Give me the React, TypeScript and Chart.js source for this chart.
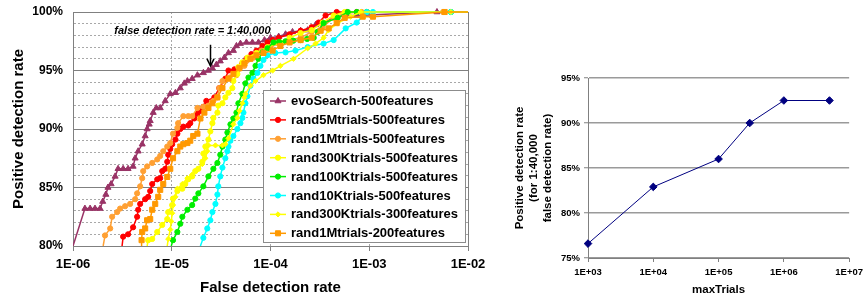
import React, { useEffect, useRef } from 'react';
import { Chart, registerables } from 'chart.js';

Chart.register(...registerables);

const FONT = "'Liberation Sans', Arial, Helvetica, sans-serif";

// ---------- Left chart: ROC curves (false detection rate vs positive detection rate %) ----------
const seriesLabels = [
  'evoSearch-500features',
  'rand5Mtrials-500features',
  'rand1Mtrials-500features',
  'rand300Ktrials-500features',
  'rand100Ktrials-500features',
  'rand10Ktrials-500features',
  'rand300Ktrials-300features',
  'rand1Mtrials-200features',
];

const evoSearchFdr = [1.0e-6, 1.32e-6, 1.49e-6, 1.67e-6, 1.88e-6, 2.0e-6, 2.15e-6, 2.26e-6, 2.43e-6, 2.67e-6, 2.86e-6, 3.22e-6, 3.61e-6, 4.06e-6, 4.26e-6, 4.57e-6, 5.02e-6, 5.38e-6, 5.63e-6, 5.91e-6, 6.05e-6, 6.49e-6, 6.97e-6, 7.64e-6, 8.59e-6, 9.66e-6, 1.09e-5, 1.22e-5, 1.34e-5, 1.44e-5, 1.61e-5, 1.82e-5, 2.09e-5, 2.35e-5, 2.58e-5, 2.83e-5, 3.10e-5, 3.41e-5, 3.75e-5, 4.21e-5, 4.52e-5, 4.96e-5, 5.70e-5, 6.56e-5, 7.55e-5, 8.69e-5, 1.0e-4, 1.21e-4, 1.42e-4, 1.67e-4, 2.02e-4, 2.38e-4, 2.86e-4, 3.37e-4, 4.36e-4, 5.77e-4, 7.46e-4, 4.85e-3, 1e-2];
const evoSearchPdr = [80, 83.2, 83.2, 83.2, 83.2, 83.8, 84.4, 85.0, 85.3, 85.95, 86.6, 86.6, 86.6, 86.8, 87.5, 88.1, 88.7, 89.4, 90.0, 90.4, 90.7, 91.4, 91.8, 91.8, 92.4, 93.0, 93.1, 93.5, 93.9, 94.1, 94.3, 94.6, 94.8, 95.0, 95.2, 95.5, 95.8, 96.1, 96.5, 96.7, 97.1, 97.3, 97.4, 97.4, 97.4, 97.6, 97.8, 97.9, 98.1, 98.3, 98.4, 98.45, 98.9, 99.1, 99.5, 99.7, 99.7, 100, 100];

const rand5MFdr = [3.14e-6, 3.22e-6, 3.61e-6, 4.06e-6, 4.46e-6, 4.57e-6, 4.79e-6, 5.38e-6, 5.77e-6, 6.05e-6, 6.34e-6, 7.13e-6, 7.64e-6, 8.01e-6, 8.59e-6, 9.0e-6, 9.21e-6, 9.66e-6, 1.01e-5, 1.09e-5, 1.14e-5, 1.22e-5, 1.31e-5, 1.47e-5, 1.54e-5, 1.69e-5, 1.82e-5, 1.95e-5, 2.09e-5, 2.24e-5, 2.70e-5, 3.03e-5, 3.49e-5, 3.75e-5, 4.31e-5, 4.84e-5, 5.19e-5, 5.70e-5, 6.41e-5, 7.21e-5, 8.29e-5, 9.33e-5, 1.05e-4, 1.21e-4, 1.56e-4, 2.02e-4, 2.61e-4, 3.07e-4, 3.61e-4, 4.68e-4, 5.92e-4, 7.46e-4, 9.44e-4, 1e-2];
const rand5MPdr = [80, 80.8, 81.0, 81.6, 82.5, 83.1, 83.6, 84.0, 84.2, 84.7, 85.3, 85.7, 85.8, 86.4, 86.6, 87.2, 87.8, 88.3, 88.7, 89.1, 89.6, 90.0, 90.2, 90.3, 90.5, 90.9, 91.3, 91.55, 91.9, 92.4, 92.7, 93.5, 94.3, 95.0, 95.1, 95.2, 95.6, 96.0, 96.4, 96.7, 97.1, 97.4, 97.6, 97.8, 98.1, 98.4, 98.7, 99.1, 99.7, 100, 100, 100, 100, 100];

const rand1M500Fdr = [2.02e-6, 2.11e-6, 2.38e-6, 2.49e-6, 2.80e-6, 3.0e-6, 3.37e-6, 3.79e-6, 4.26e-6, 4.46e-6, 4.79e-6, 5.02e-6, 5.14e-6, 5.63e-6, 6.34e-6, 7.13e-6, 7.64e-6, 8.20e-6, 9.0e-6, 9.66e-6, 1.03e-5, 1.14e-5, 1.16e-5, 1.31e-5, 1.47e-5, 1.61e-5, 1.82e-5, 2.09e-5, 2.35e-5, 2.64e-5, 2.90e-5, 3.03e-5, 3.26e-5, 3.84e-5, 4.52e-5, 5.44e-5, 6.72e-5, 8.10e-5, 1.0e-4, 1.21e-4, 1.56e-4, 2.02e-4, 2.61e-4, 3.37e-4, 4.36e-4, 5.64e-4, 8.39e-4, 5.6e-3, 1e-2];
const rand1M500Pdr = [80, 80.9, 81.5, 82.5, 82.9, 83.2, 83.4, 83.6, 84.0, 84.5, 85.1, 85.8, 86.4, 86.8, 87.1, 87.4, 87.7, 88.1, 88.5, 88.8, 89.6, 90.1, 90.5, 91.1, 91.1, 91.1, 91.8, 91.9, 92.0, 92.4, 92.7, 93.5, 94.1, 94.4, 94.6, 95.4, 96.1, 96.7, 97.0, 97.3, 97.6, 97.8, 98.3, 98.7, 99.5, 99.9, 100, 100, 100];

const rand300K500Fdr = [5.63e-6, 5.77e-6, 6.34e-6, 7.13e-6, 8.01e-6, 9.0e-6, 9.21e-6, 1.01e-5, 1.03e-5, 1.14e-5, 1.28e-5, 1.37e-5, 1.47e-5, 1.61e-5, 1.73e-5, 1.86e-5, 2.04e-5, 2.09e-5, 2.19e-5, 2.35e-5, 2.46e-5, 2.58e-5, 2.64e-5, 2.90e-5, 2.96e-5, 3.26e-5, 3.49e-5, 3.75e-5, 4.11e-5, 4.21e-5, 4.62e-5, 4.73e-5, 5.19e-5, 5.84e-5, 7.21e-5, 9.33e-5, 1.26e-4, 1.56e-4, 2.02e-4, 2.61e-4, 3.37e-4, 4.36e-4, 5.64e-4, 9.44e-4, 6.71e-3, 1e-2];
const rand300K500Pdr = [80, 80.5, 80.6, 81.2, 81.8, 82.3, 82.9, 83.5, 84.05, 84.7, 84.9, 85.3, 85.7, 85.95, 86.4, 86.6, 87.2, 87.9, 88.5, 89.1, 89.8, 90.5, 90.95, 91.4, 92.0, 92.2, 92.7, 93.1, 93.5, 94.1, 94.7, 95.3, 95.7, 96.1, 96.5, 97.0, 97.4, 97.8, 98.2, 98.45, 99.1, 99.7, 100, 100, 100, 100];

const rand100KFdr = [9.89e-6, 1.03e-5, 1.14e-5, 1.22e-5, 1.28e-5, 1.44e-5, 1.61e-5, 1.73e-5, 1.86e-5, 2.09e-5, 2.35e-5, 2.64e-5, 2.90e-5, 3.10e-5, 3.26e-5, 3.49e-5, 3.66e-5, 3.93e-5, 4.21e-5, 4.52e-5, 4.73e-5, 5.19e-5, 5.57e-5, 5.98e-5, 6.56e-5, 7.05e-5, 7.55e-5, 8.29e-5, 9.33e-5, 1.07e-4, 1.22e-4, 1.42e-4, 1.7e-4, 2.02e-4, 2.35e-4, 2.74e-4, 3.0e-4, 3.45e-4, 4.79e-4, 6.06e-4, 7.5e-4, 9.44e-4, 6.71e-3, 1e-2];
const rand100KPdr = [80, 80.5, 81.2, 81.9, 82.5, 83.1, 83.5, 84.05, 84.5, 85.1, 85.95, 86.6, 87.1, 87.8, 88.5, 89.1, 89.7, 90.4, 90.9, 91.4, 92.2, 93.0, 93.9, 94.4, 94.8, 95.4, 96.0, 96.55, 96.9, 97.4, 97.45, 97.5, 97.55, 97.6, 97.7, 97.8, 98.3, 99.05, 99.5, 100, 100, 100, 100, 100];

const rand10KFdr = [1.95e-5, 2.09e-5, 2.29e-5, 2.46e-5, 2.58e-5, 2.77e-5, 2.90e-5, 2.96e-5, 3.10e-5, 3.26e-5, 3.49e-5, 3.66e-5, 3.75e-5, 3.93e-5, 4.21e-5, 4.62e-5, 4.96e-5, 5.19e-5, 5.32e-5, 5.57e-5, 5.84e-5, 6.26e-5, 6.72e-5, 7.38e-5, 7.91e-5, 8.49e-5, 9.33e-5, 1.12e-4, 1.42e-4, 1.79e-4, 2.38e-4, 3.45e-4, 4.36e-4, 5.77e-4, 7.46e-4, 9.44e-4, 1.09e-3, 6.71e-3, 1e-2];
const rand10KPdr = [80, 80.7, 81.5, 82.2, 82.9, 83.6, 84.4, 85.1, 85.95, 86.7, 87.5, 88.1, 88.5, 89.0, 89.4, 90.0, 90.5, 90.95, 91.4, 92.2, 92.8, 93.7, 94.3, 94.8, 95.4, 95.9, 96.3, 96.5, 96.55, 96.7, 97.0, 97.3, 97.6, 98.6, 99.1, 100, 100, 100, 100];

const rand300K300Fdr = [9.0e-6, 9.21e-6, 9.66e-6, 9.89e-6, 1.01e-5, 1.03e-5, 1.09e-5, 1.14e-5, 1.28e-5, 1.44e-5, 1.61e-5, 1.82e-5, 2.04e-5, 2.19e-5, 2.29e-5, 2.35e-5, 2.77e-5, 3.26e-5, 3.49e-5, 3.75e-5, 4.21e-5, 4.62e-5, 4.84e-5, 5.19e-5, 5.44e-5, 5.57e-5, 6.26e-5, 7.05e-5, 8.49e-5, 1.05e-4, 1.26e-4, 1.71e-4, 2.38e-4, 2.86e-4, 3.45e-4, 3.88e-4, 4.79e-4, 6.49e-4, 8.20e-4, 6.71e-3, 1e-2];
const rand300K300Pdr = [80, 80.6, 81.4, 82.1, 82.8, 83.5, 84.2, 84.9, 85.3, 85.8, 86.1, 86.55, 87.0, 87.5, 88.1, 88.6, 88.6, 88.6, 88.7, 89.2, 90.4, 90.95, 91.55, 92.2, 92.7, 93.0, 93.7, 94.1, 94.6, 95.0, 95.4, 96.0, 96.9, 97.3, 97.8, 98.45, 99.05, 99.6, 100, 100, 100];

const rand1M200Fdr = [4.90e-6, 4.95e-6, 5.02e-6, 5.38e-6, 5.63e-6, 6.05e-6, 6.34e-6, 6.80e-6, 7.29e-6, 7.64e-6, 8.20e-6, 9.0e-6, 9.66e-6, 1.03e-5, 1.14e-5, 1.22e-5, 1.31e-5, 1.44e-5, 1.54e-5, 1.65e-5, 1.82e-5, 1.95e-5, 2.14e-5, 2.35e-5, 2.58e-5, 2.90e-5, 3.26e-5, 3.75e-5, 4.21e-5, 4.84e-5, 5.44e-5, 6.26e-5, 7.21e-5, 8.49e-5, 1.05e-4, 1.26e-4, 1.56e-4, 2.02e-4, 2.61e-4, 3.22e-4, 3.88e-4, 4.68e-4, 5.64e-4, 8.59e-4, 1.09e-3, 5.8e-3, 1e-2];
const rand1M200Pdr = [80, 80.5, 81.2, 81.5, 82.2, 82.3, 83.1, 83.6, 84.2, 84.8, 85.3, 85.9, 86.6, 87.5, 88.1, 88.5, 88.7, 88.8, 89.0, 89.4, 89.6, 90.9, 91.4, 91.8, 92.2, 92.7, 93.5, 94.3, 94.7, 95.2, 95.6, 96.0, 96.3, 96.5, 96.7, 97.1, 97.4, 97.6, 97.8, 98.4, 98.6, 99.05, 99.5, 99.6, 99.6, 100, 100];

const seriesFdr = [evoSearchFdr, rand5MFdr, rand1M500Fdr, rand300K500Fdr, rand100KFdr, rand10KFdr, rand300K300Fdr, rand1M200Fdr];
const seriesPdr = [evoSearchPdr, rand5MPdr, rand1M500Pdr, rand300K500Pdr, rand100KPdr, rand10KPdr, rand300K300Pdr, rand1M200Pdr];

const fdrTicks = [1e-6, 1e-5, 1e-4, 1e-3, 1e-2];
const pdrMin = 80;
const pdrMax = 100;
const annotationFdr = 1 / 40000;
const annotationText = 'false detection rate = 1:40,000';

// ---------- Right chart: detection rate at 1:40,000 vs maxTrials ----------
const maxTrials = [1e3, 1e4, 1e5, 3e5, 1e6, 5e6];
const detectionAt40k = [76.6, 82.9, 86.0, 90.0, 92.5, 92.5];
const trialTicks = [1e3, 1e4, 1e5, 1e6, 1e7];

// styles
const seriesColors = ['#993366', '#FF0000', '#FFA033', '#FFFF00', '#00EE00', '#00FFFF', '#FFFF00', '#FF9900'];
const seriesPointStyles = ['triangle', 'circle', 'circle', 'circle', 'circle', 'circle', 'rectRot', 'rect'];
const seriesPointRadius = [3.5, 2.6, 2.6, 2.6, 2.6, 2.6, 2.6, 3.6];

const sciLabel = (v: number) => {
  const e = Math.round(Math.log10(v));
  return '1E' + (e < 0 ? '-' : '+') + String(Math.abs(e)).padStart(2, '0');
};

function drawMarker(ctx: CanvasRenderingContext2D, style: string, x: number, y: number, r: number, color: string) {
  ctx.save();
  ctx.fillStyle = color;
  ctx.strokeStyle = color;
  ctx.lineWidth = 1;
  ctx.beginPath();
  if (style === 'circle') {
    ctx.arc(x, y, r, 0, Math.PI * 2);
  } else if (style === 'triangle') {
    let rad = 0;
    ctx.moveTo(x + Math.sin(rad) * r, y - Math.cos(rad) * r);
    rad += (Math.PI * 2) / 3;
    ctx.lineTo(x + Math.sin(rad) * r, y - Math.cos(rad) * r);
    rad += (Math.PI * 2) / 3;
    ctx.lineTo(x + Math.sin(rad) * r, y - Math.cos(rad) * r);
    ctx.closePath();
  } else if (style === 'rect') {
    const s = r * Math.SQRT1_2;
    ctx.rect(x - s, y - s, 2 * s, 2 * s);
  } else {
    ctx.moveTo(x - r, y);
    ctx.lineTo(x, y - r);
    ctx.lineTo(x + r, y);
    ctx.lineTo(x, y + r);
    ctx.closePath();
  }
  ctx.fill();
  ctx.stroke();
  ctx.restore();
}

const rocLegendPlugin = {
  id: 'rocLegend',
  afterDraw(chart: any) {
    const { ctx, chartArea } = chart;
    const w = 202;
    const h = 152;
    const rowH = 18.9;
    const right = chartArea.right - 3;
    const bottom = chartArea.bottom - 4;
    const left = right - w;
    const top = bottom - h;
    ctx.save();
    ctx.fillStyle = '#ffffff';
    ctx.fillRect(left, top, w, h);
    ctx.strokeStyle = '#8c8c8c';
    ctx.lineWidth = 1;
    ctx.strokeRect(Math.round(left) + 0.5, Math.round(top) + 0.5, w, h);
    seriesLabels.forEach((label, i) => {
      const y = top + 11 + i * rowH;
      ctx.strokeStyle = seriesColors[i];
      ctx.lineWidth = 1.5;
      ctx.beginPath();
      ctx.moveTo(left + 7, y);
      ctx.lineTo(left + 23, y);
      ctx.stroke();
      drawMarker(ctx, seriesPointStyles[i], left + 15, y, seriesPointRadius[i], seriesColors[i]);
      ctx.fillStyle = '#000';
      ctx.font = `bold 13px ${FONT}`;
      ctx.textBaseline = 'middle';
      ctx.textAlign = 'left';
      ctx.fillText(label, left + 28, y + 0.5);
    });
    ctx.restore();
  },
};

const annotationPlugin = {
  id: 'rateAnnotation',
  afterDatasetsDraw(chart: any) {
    const { ctx, scales } = chart;
    const xs = scales.x;
    const ys = scales.y;
    const ax = Math.round(xs.getPixelForValue(annotationFdr)) - 0.5;
    const yTop = ys.getPixelForValue(97.2);
    const yTip = ys.getPixelForValue(95.4);
    ctx.save();
    ctx.font = `italic bold 11px ${FONT}`;
    ctx.fillStyle = '#000';
    ctx.textAlign = 'center';
    ctx.textBaseline = 'middle';
    ctx.fillText(annotationText, xs.getPixelForValue(1.62e-5), ys.getPixelForValue(98.4));
    ctx.strokeStyle = '#000';
    ctx.lineWidth = 1.5;
    ctx.beginPath();
    ctx.moveTo(ax, yTop);
    ctx.lineTo(ax, yTip);
    ctx.stroke();
    ctx.beginPath();
    ctx.moveTo(ax - 3.5, yTip - 7);
    ctx.lineTo(ax, yTip);
    ctx.lineTo(ax + 3.5, yTip - 7);
    ctx.stroke();
    ctx.restore();
  },
};

export default function App() {
  const leftRef = useRef<HTMLCanvasElement>(null);
  const rightRef = useRef<HTMLCanvasElement>(null);

  useEffect(() => {
    const isMajor = (v: number) => Math.abs(v - Math.round(v / 5) * 5) < 1e-6;

    const datasets = seriesLabels.map((label, i) => ({
      label,
      data: seriesFdr[i].map((x, j) => ({ x, y: seriesPdr[i][j] })),
      showLine: true,
      borderColor: seriesColors[i],
      backgroundColor: seriesColors[i],
      borderWidth: 1.5,
      pointStyle: seriesPointStyles[i],
      pointRadius: seriesFdr[i].map((x, j) => (x >= 1e-2 || seriesPdr[i][j] <= pdrMin ? 0 : seriesPointRadius[i])),
      pointBorderWidth: 1,
      pointHoverRadius: 0,
      tension: 0,
      order: seriesLabels.length - i,
      clip: { left: 0, top: 6, right: 0, bottom: 0 },
    }));

    const left = new Chart(leftRef.current as HTMLCanvasElement, {
      type: 'scatter',
      data: { datasets: datasets as any },
      options: {
        responsive: false,
        animation: false,
        devicePixelRatio: 1,
        events: [],
        layout: { padding: { top: 12, right: 32, bottom: 0, left: 0 } },
        plugins: { legend: { display: false }, tooltip: { enabled: false } },
        scales: {
          x: {
            type: 'logarithmic',
            min: fdrTicks[0],
            max: fdrTicks[fdrTicks.length - 1],
            afterBuildTicks: (s: any) => {
              s.ticks = fdrTicks.map((v) => ({ value: v }));
            },
            afterFit: (s: any) => {
              s.height = 54;
            },
            ticks: {
              callback: (v: any) => sciLabel(Number(v)),
              font: { family: FONT, size: 13, weight: 'bold' },
              color: '#000',
              padding: 6,
              autoSkip: false,
              maxRotation: 0,
            },
            grid: {
              color: (c: any) => (c.tick && c.index > 0 && c.index < fdrTicks.length - 1 ? '#a8a8a8' : '#808080'),
              tickColor: '#808080',
              tickLength: 5,
              lineWidth: 1,
            },
            border: {
              color: '#808080',
              dash: (c: any) => (c.tick && c.index > 0 && c.index < fdrTicks.length - 1 ? [2, 2] : []),
            },
            title: {
              display: true,
              text: 'False detection rate',
              color: '#000',
              font: { family: FONT, size: 15, weight: 'bold' },
              padding: { top: 0, bottom: 3 },
            },
          } as any,
          y: {
            min: pdrMin,
            max: pdrMax,
            afterFit: (s: any) => {
              s.width = 73;
            },
            ticks: {
              stepSize: 1,
              autoSkip: false,
              callback: (v: any) => (isMajor(Number(v)) ? `${Math.round(Number(v))}%` : ''),
              font: { family: FONT, size: 12, weight: 'bold' },
              color: '#000',
              padding: 0,
            },
            grid: {
              drawTicks: true,
              tickLength: 10,
              tickColor: 'rgba(0,0,0,0)',
              color: (c: any) => (c.tick && !isMajor(c.tick.value) ? '#a8a8a8' : '#808080'),
              lineWidth: 1,
            },
            border: {
              color: '#808080',
              dash: (c: any) => (c.tick && !isMajor(c.tick.value) ? [2, 2] : []),
            },
            title: {
              display: true,
              text: 'Positive detection rate',
              color: '#000',
              font: { family: FONT, size: 15, weight: 'bold' },
              padding: { top: 10, bottom: 0 },
            },
          } as any,
        },
      } as any,
      plugins: [annotationPlugin, rocLegendPlugin],
    });

    const right = new Chart(rightRef.current as HTMLCanvasElement, {
      type: 'scatter',
      data: {
        datasets: [
          {
            label: 'maxTrials',
            data: maxTrials.map((x, i) => ({ x, y: detectionAt40k[i] })),
            showLine: true,
            borderColor: '#000080',
            backgroundColor: '#000080',
            borderWidth: 1,
            pointStyle: 'rectRot',
            pointRadius: 3.8,
            pointBorderWidth: 1,
            pointHoverRadius: 0,
            clip: false,
          } as any,
        ],
      },
      options: {
        responsive: false,
        animation: false,
        devicePixelRatio: 1,
        events: [],
        layout: { padding: { top: 78, right: 16, bottom: 0, left: 0 } },
        plugins: { legend: { display: false }, tooltip: { enabled: false } },
        scales: {
          x: {
            type: 'logarithmic',
            min: trialTicks[0],
            max: trialTicks[trialTicks.length - 1],
            afterBuildTicks: (s: any) => {
              s.ticks = trialTicks.map((v) => ({ value: v }));
            },
            afterFit: (s: any) => {
              s.height = 42;
            },
            ticks: {
              callback: (v: any) => sciLabel(Number(v)),
              font: { family: FONT, size: 9.5, weight: 'bold' },
              color: '#000',
              padding: 5,
              autoSkip: false,
              maxRotation: 0,
            },
            grid: { drawOnChartArea: false, tickLength: 4, color: '#808080' },
            border: { color: '#808080' },
            title: {
              display: true,
              text: 'maxTrials',
              color: '#000',
              font: { family: FONT, size: 11.5, weight: 'bold' },
              padding: { top: 0, bottom: 3 },
            },
          } as any,
          y: {
            min: 75,
            max: 95,
            afterFit: (s: any) => {
              s.width = 108;
            },
            ticks: {
              stepSize: 5,
              callback: (v: any) => `${Math.round(Number(v))}%`,
              font: { family: FONT, size: 9.5, weight: 'bold' },
              color: '#000',
              padding: 4,
            },
            grid: { color: '#9a9a9a', lineWidth: 1.5, tickLength: 4, tickColor: '#808080', tickWidth: 1 },
            border: { color: '#808080' },
            title: {
              display: true,
              text: ['Positive detection rate', '(for 1:40,000', 'false detection rate)'],
              color: '#000',
              font: { family: FONT, size: 11.5, weight: 'bold' },
              padding: { top: 33, bottom: 0 },
            },
          } as any,
        },
      } as any,
    });

    return () => {
      left.destroy();
      right.destroy();
    };
  }, []);

  return (
    <div style={{ position: 'absolute', left: 0, top: 0, width: 868, height: 300, background: '#ffffff', overflow: 'hidden' }}>
      <canvas ref={leftRef} width={500} height={300} style={{ position: 'absolute', left: 0, top: 0, width: 500, height: 300 }} />
      <canvas ref={rightRef} width={388} height={300} style={{ position: 'absolute', left: 480, top: 0, width: 388, height: 300 }} />
    </div>
  );
}
